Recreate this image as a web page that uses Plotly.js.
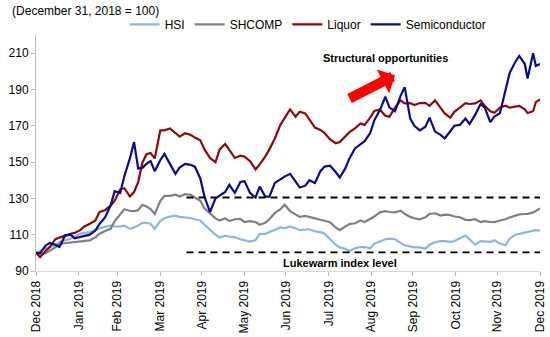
<!DOCTYPE html>
<html>
<head>
<meta charset="utf-8">
<script src="https://cdn.plot.ly/plotly-3.0.1.min.js"></script>
<style>html,body{margin:0;padding:0;background:#fff;}#chart{width:550px;height:337px;}</style>
</head>
<body>
<div id="chart"></div>
<script>
const dates = ['2018-12-31','2019-01-03','2019-01-07','2019-01-10','2019-01-14','2019-01-17','2019-01-21','2019-01-25','2019-01-28','2019-02-01',
'2019-02-04','2019-02-08','2019-02-12','2019-02-15','2019-02-19','2019-02-23','2019-02-26','2019-03-02','2019-03-05','2019-03-09',
'2019-03-12','2019-03-15','2019-03-18','2019-03-21','2019-03-24','2019-03-27','2019-03-31','2019-04-03','2019-04-07','2019-04-11',
'2019-04-14','2019-04-18','2019-04-22','2019-04-25','2019-04-29','2019-05-02','2019-05-06','2019-05-10','2019-05-13','2019-05-17',
'2019-05-20','2019-05-24','2019-05-28','2019-05-31','2019-06-04','2019-06-08','2019-06-11','2019-06-15','2019-06-18','2019-06-22',
'2019-06-26','2019-06-29','2019-07-03','2019-07-07','2019-07-10','2019-07-14','2019-07-17','2019-07-21','2019-07-25','2019-07-28',
'2019-08-01','2019-08-05','2019-08-08','2019-08-12','2019-08-15','2019-08-19','2019-08-23','2019-08-26','2019-08-30','2019-09-02',
'2019-09-06','2019-09-10','2019-09-13','2019-09-17','2019-09-21','2019-09-24','2019-09-28','2019-10-01','2019-10-05','2019-10-09',
'2019-10-12','2019-10-16','2019-10-20','2019-10-23','2019-10-27','2019-10-30','2019-11-03','2019-11-07','2019-11-10','2019-11-14',
'2019-11-18','2019-11-21','2019-11-25','2019-11-28','2019-12-02','2019-12-06','2019-12-09','2019-12-13','2019-12-16','2019-12-20',
'2019-12-22','2019-12-26','2019-12-28','2019-12-31'];

const hsi = [100,101,102,103.2,104.5,106,107,107.8,109,110.5,
111,111.4,112.5,113.5,114.3,115,114.5,114.5,115,113.2,
114,115,116.5,116.5,116,113.2,117.5,119,120,120.5,
119.8,119.6,119.2,118.5,117.8,115.5,112.5,110,108.5,109.5,
109,108.5,107.5,106.8,106.2,107,110.5,110.5,111.5,112.5,
114,113.5,114.5,113.5,112.5,112.8,113,111.8,111.4,110.5,
107.5,104.5,103,102.3,101,102.5,103.2,103.2,102.5,105,
106.3,107.5,107.8,107.5,105.5,104.2,103.5,103,103,102.3,
104.5,105.8,106.5,106.5,106,106.5,108,109.5,107.5,104.5,
106.5,106.2,106,106.9,105.1,104.2,107.8,110,110.5,111.4,
111.8,112.3,112.5,112.3];

const shcomp = [100,99.5,99.8,101,103,105,105.3,105.5,105.8,106,
106.5,106.9,108.5,110.5,112,113.2,117.5,121.5,124,123.2,
123,123.5,126.5,125.5,124.1,121.4,128.5,131.4,131.4,132,
131,132.3,132,130.5,128.7,124.5,121.5,119,117.8,119,
117.5,118.5,118.7,117,117.5,117,115.5,116.5,118.5,122,
124,126.5,123,121,119.8,120.3,119.6,119,118.2,117.5,
116.9,114,112.5,114.5,115.8,116.3,117.8,117,118.5,120,
122.3,123,122.5,122.3,123.2,121.5,119.8,119,118.5,119.6,
121.5,121.8,120.5,121,120.8,120,119.6,118.2,118,118.5,
117,117.5,117,116.9,117.8,118.5,119.5,120.5,121.2,121.4,
121.5,122.3,123,124.5];

const liquor = [100,97.6,101,103.2,107.5,108.5,109.5,110.5,111,112.5,
114.5,116,117.8,122.5,123.5,126,128.7,135,135.6,131,
133.5,139,149.5,154.3,155,152,167.5,167.5,168.5,166,
164,165.9,165,163.5,162,157,152.3,150,157,160,
156.5,152.3,153.5,153,150.5,146,148.7,153,157,163,
170.5,174.1,179,175,177.7,176.8,173.2,169,167.7,166,
162.5,160.4,161,164,166.5,168.6,171.3,170.5,174.5,178.2,
179,175.5,175,180,184,182.3,182.5,181.4,182.5,182.6,
181,184,179.5,176.8,174.5,177.7,180,182.5,182,182.3,
184,181,178,177.2,180,181,180,180.5,181,179,
177,178,183,184.5];

const semi = [100,99.8,104,105.5,104.5,103.2,109.5,110,108,108.7,
109,110,112.3,116,119.5,126,134,133,142.3,152,
161,146.5,146.8,149,150.5,145,151,154.5,149,143.5,
147,149,148.5,147.5,141,131,122.5,130,131.5,133.5,
137.5,133,139,139.5,133,130.5,136.5,131,131,138.5,
140.5,142,143.5,139,136,137,140,138.5,145,147.5,
148,144.5,141.5,146.5,152,157.5,160,161.5,166,173,
178.5,186,180,178,186.5,191.3,174,170,167.5,169.5,
174.5,166.8,165,163,167,170,170.5,174,171,176,
182,180,172,175,177,190,199,205,208.5,204,
196,210,203,204];

const tickDates = ['2018-12-31','2019-01-31','2019-02-28','2019-03-31','2019-04-30','2019-05-31','2019-06-30',
'2019-07-31','2019-08-31','2019-09-30','2019-10-31','2019-11-30','2019-12-31'];
const tickLabels = ['Dec 2018','Jan 2019','Feb 2019','Mar 2019','Apr 2019','May 2019','Jun 2019',
'Jul 2019','Aug 2019','Sep 2019','Oct 2019','Nov 2019','Dec 2019'];
const yTicks = [90,110,130,150,170,190,210];

const seriesNames = ['HSI','SHCOMP','Liquor','Semiconductor'];
const seriesColors = ['#8DB4E2','#808080','#8B0A0A','#0A0A8C'];
const seriesValues = [hsi, shcomp, liquor, semi];

const traces = seriesValues.map((v,i)=>({
  type:'scatter', mode:'lines', x:dates, y:v, name:seriesNames[i],
  line:{color:seriesColors[i], width:2.2}
}));

const FONT = 'Liberation Sans, Arial, sans-serif';
const layout = {
  width:550, height:337,
  margin:{l:36, r:10, t:32, b:66},
  paper_bgcolor:'#fff', plot_bgcolor:'#fff',
  font:{family:FONT, size:12, color:'#000'},
  title:{text:'(December 31, 2018 = 100)', x:0.022, xanchor:'left', xref:'container',
         y:0.968, yanchor:'middle', yref:'container', font:{family:FONT, size:12, color:'#000'}},
  showlegend:true,
  legend:{orientation:'h', x:0.54, xanchor:'center', y:1.045, yanchor:'middle',
          font:{family:FONT, size:12, color:'#000'}, bgcolor:'rgba(0,0,0,0)', itemwidth:30, traceorder:'normal'},
  xaxis:{type:'date', range:['2018-12-31','2019-12-31'], tickmode:'array', tickvals:tickDates, ticktext:tickLabels,
         tickangle:-90, ticks:'outside', ticklen:4, tickcolor:'#bfbfbf', showline:true, linecolor:'#d9d9d9', linewidth:1,
         showgrid:false, zeroline:false, tickfont:{family:FONT, size:12, color:'#000'}},
  yaxis:{range:[90,220], tickmode:'array', tickvals:yTicks, ticks:'outside', ticklen:4, tickcolor:'#bfbfbf',
         showline:true, linecolor:'#bfbfbf', linewidth:1, showgrid:false, zeroline:false,
         tickfont:{family:FONT, size:12, color:'#000'}},
  shapes:[
    {type:'line', xref:'x', yref:'y', x0:'2019-04-19', x1:'2019-12-31', y0:130.5, y1:130.5,
     line:{color:'#000', width:1.8, dash:'7px,5px'}},
    {type:'line', xref:'x', yref:'y', x0:'2019-04-19', x1:'2019-12-31', y0:100.3, y1:100.3,
     line:{color:'#000', width:1.8, dash:'7px,5px'}}
  ],
  annotations:[
    {xref:'x', yref:'y', x:'2019-09-10', y:207.6, text:'<b>Structural opportunities</b>', showarrow:false,
     font:{family:FONT, size:11, color:'#000'}, xanchor:'center', yanchor:'middle'},
    {xref:'x', yref:'y', x:'2019-08-08', y:94.3, text:'<b>Lukewarm index level</b>', showarrow:false,
     font:{family:FONT, size:11, color:'#000'}, xanchor:'center', yanchor:'middle'},
    {xref:'x', yref:'y', x:'2019-09-17', y:197.8, text:'', showarrow:true, axref:'pixel', ayref:'pixel',
     ax:-47, ay:24, arrowcolor:'#FF0000', arrowwidth:10, arrowhead:1, arrowsize:0.45, standoff:0}
  ]
};

Plotly.newPlot('chart', traces, layout, {displayModeBar:false, staticPlot:true});
</script>
</body>
</html>
